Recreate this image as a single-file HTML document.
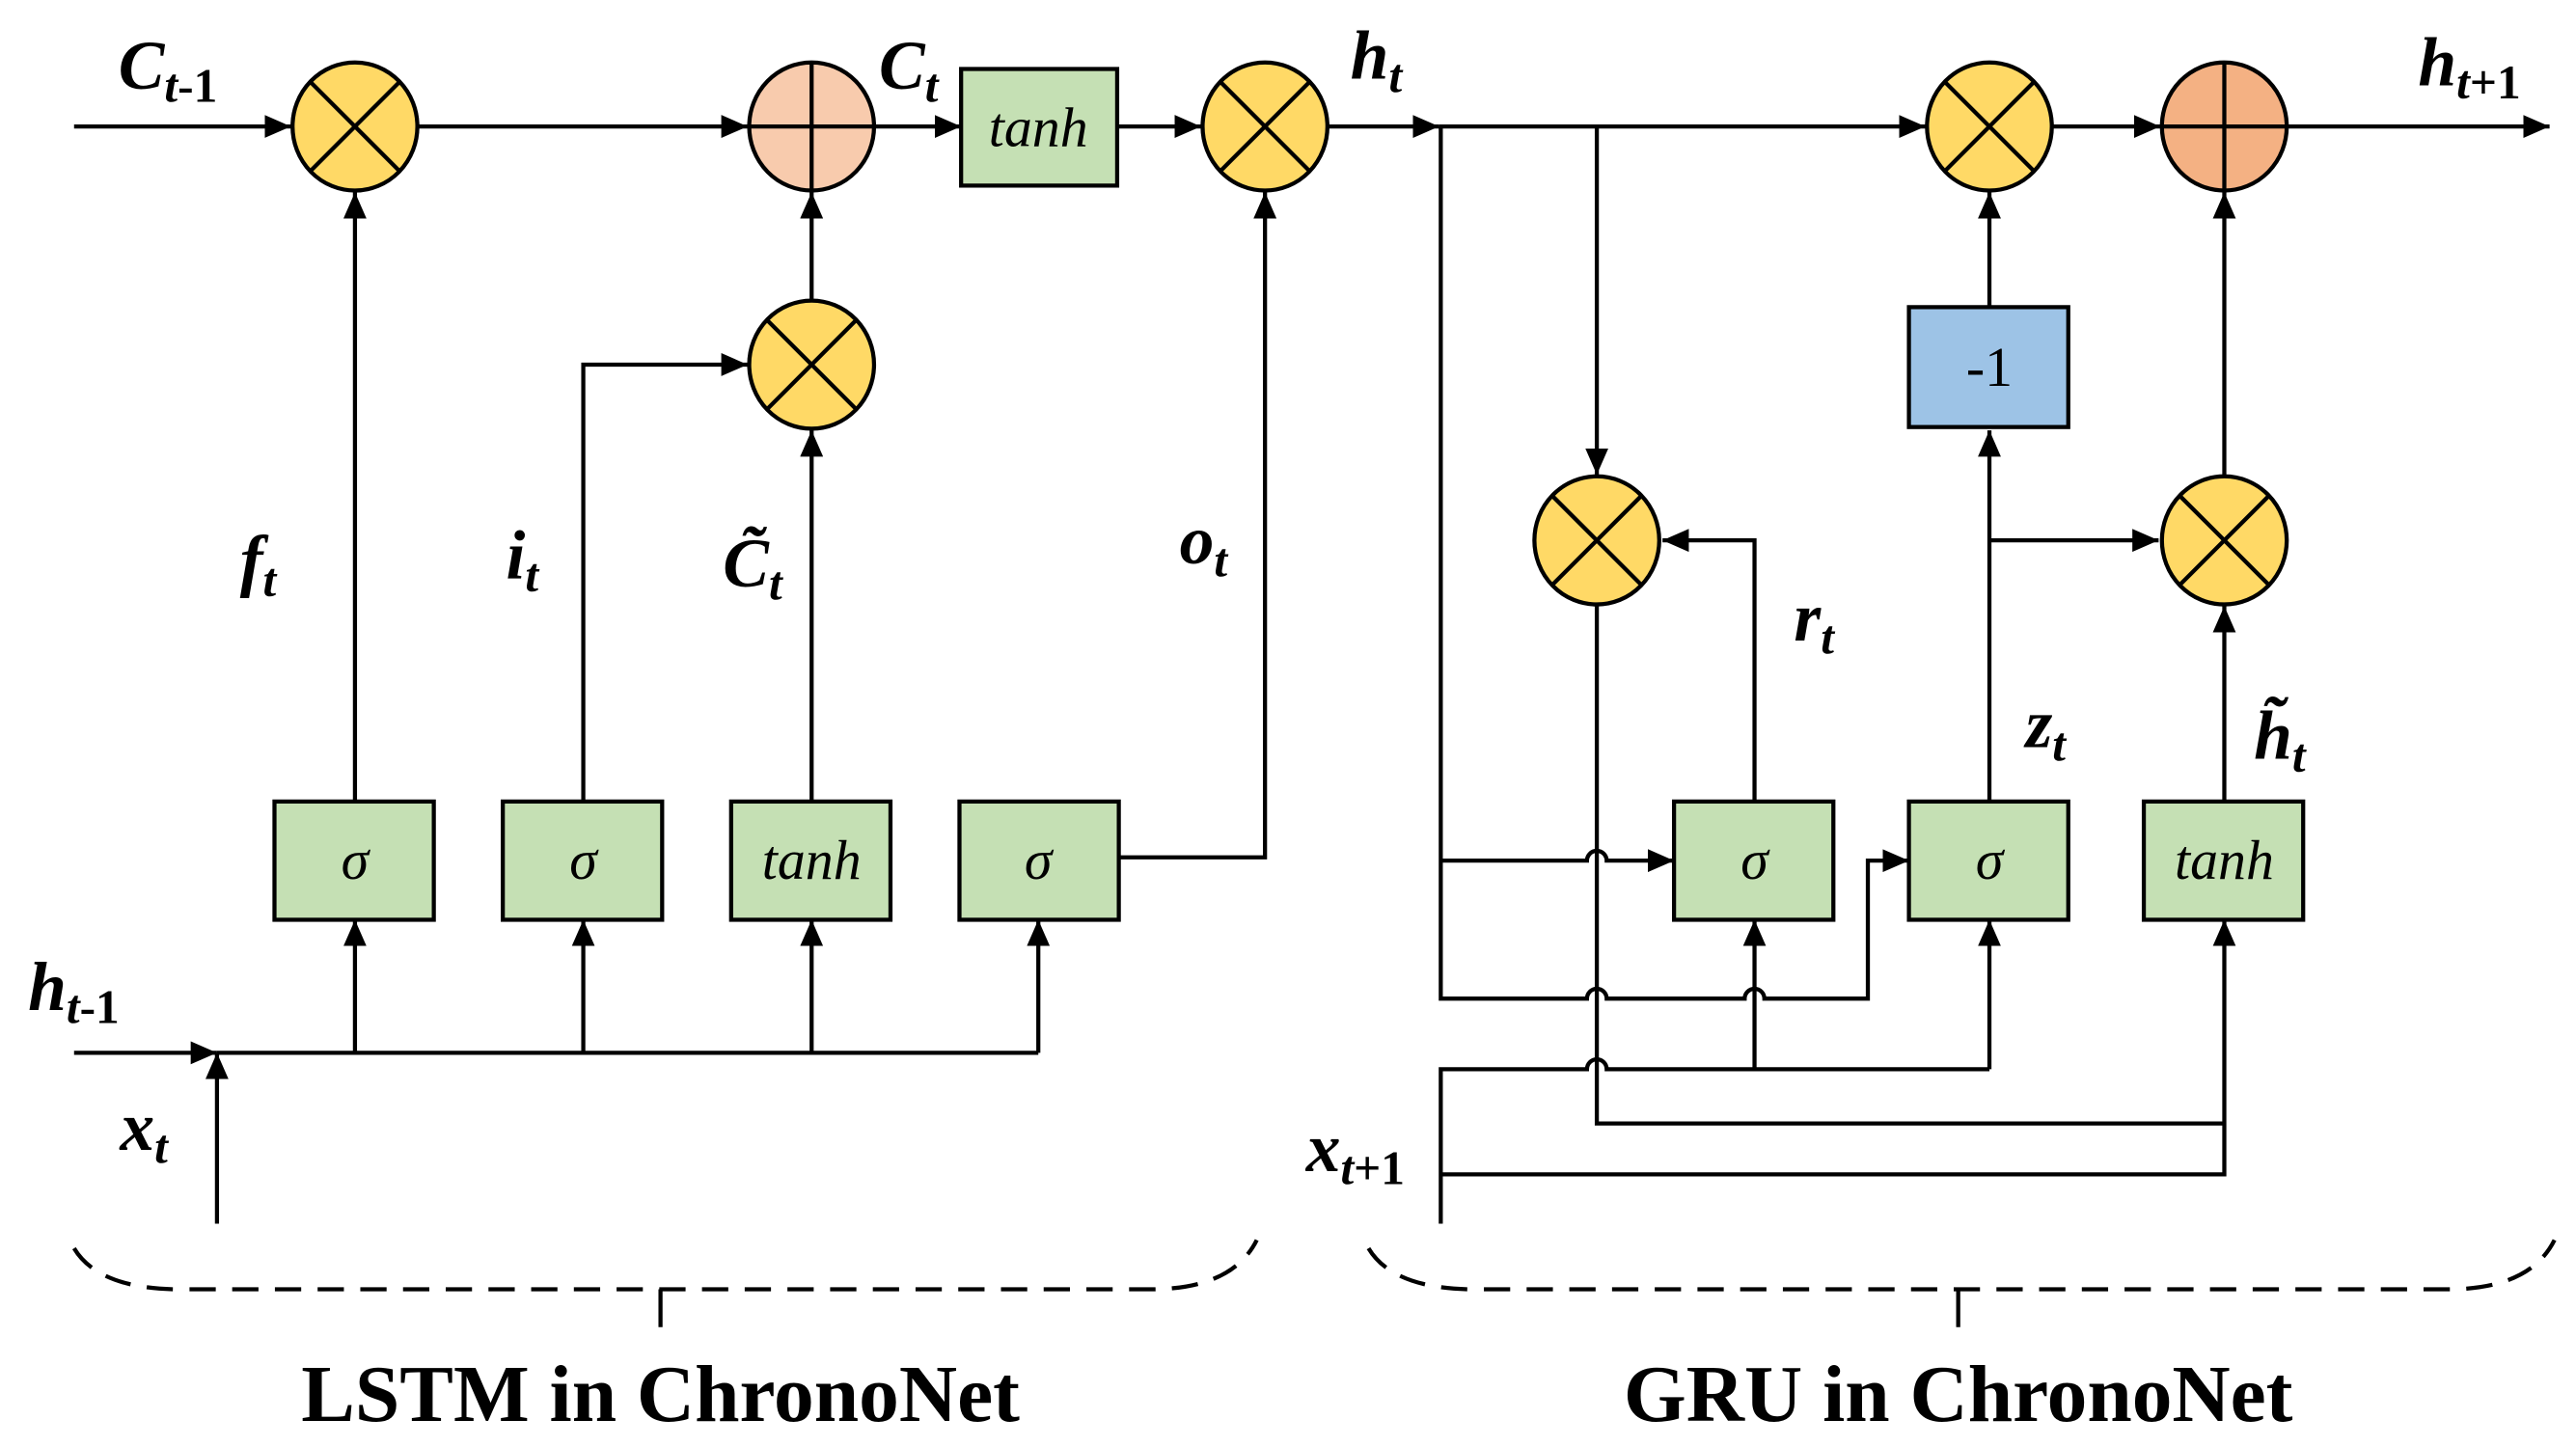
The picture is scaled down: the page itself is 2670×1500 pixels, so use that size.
<!DOCTYPE html>
<html><head><meta charset="utf-8"><style>
html,body{margin:0;padding:0;background:#fff;width:2670px;height:1500px;overflow:hidden}
svg{display:block}
.l{font-family:"Liberation Serif",serif;font-weight:bold;font-style:italic;font-size:42px;fill:#000}
.s{font-size:29px}
.b{font-family:"Liberation Serif",serif;font-style:italic;font-size:34px;fill:#000}
.t{font-family:"Liberation Serif",serif;font-weight:bold;font-size:49px;fill:#000}
</style></head><body>
<svg width="2670" height="1500" viewBox="0 0 1568 881" xmlns="http://www.w3.org/2000/svg">
<defs>
<marker id="A" markerWidth="16" markerHeight="14" refX="16" refY="7" orient="auto" markerUnits="userSpaceOnUse" viewBox="0 0 16 14">
<path d="M0,0 L16,7 L0,14 z" fill="#000"/></marker>
</defs>
<g fill="none" stroke="#000" stroke-width="2.5">
<path d="M45,77 H177" marker-end="url(#A)"/>
<path d="M255,77 H455" marker-end="url(#A)"/>
<path d="M533,77 H585" marker-end="url(#A)"/>
<path d="M680,77 H731" marker-end="url(#A)"/>
<path d="M809,77 H876" marker-end="url(#A)"/>
<path d="M876,77 H1172" marker-end="url(#A)"/>
<path d="M1250,77 H1315" marker-end="url(#A)"/>
<path d="M1393,77 H1552" marker-end="url(#A)"/>
<path d="M216,488 V117" marker-end="url(#A)"/>
<path d="M355,488 V222 H455" marker-end="url(#A)"/>
<path d="M494,488 V262" marker-end="url(#A)"/>
<path d="M494,182 V117" marker-end="url(#A)"/>
<path d="M681,522 H770 V117" marker-end="url(#A)"/>
<path d="M45,641 H132" marker-end="url(#A)"/>
<path d="M132,745 V641" marker-end="url(#A)"/>
<path d="M132,641 H632"/>
<path d="M216,641 V560" marker-end="url(#A)"/>
<path d="M355,641 V560" marker-end="url(#A)"/>
<path d="M494,641 V560" marker-end="url(#A)"/>
<path d="M632,641 V560" marker-end="url(#A)"/>
<path d="M877,77 V608 H966 a6,6 0 0 1 12,0 H1062 a6,6 0 0 1 12,0 H1137 V524 H1162" marker-end="url(#A)"/>
<path d="M877,524 H966 a6,6 0 0 1 12,0 H1019" marker-end="url(#A)"/>
<path d="M972,77 V289" marker-end="url(#A)"/>
<path d="M972,369 V684 H1354"/>
<path d="M1068,488 V329 H1012" marker-end="url(#A)"/>
<path d="M1211,488 V262" marker-end="url(#A)"/>
<path d="M1211,187 V117" marker-end="url(#A)"/>
<path d="M1211,329 H1314" marker-end="url(#A)"/>
<path d="M1354,488 V369" marker-end="url(#A)"/>
<path d="M1354,289 V117" marker-end="url(#A)"/>
<path d="M877,745 V651 H966 a6,6 0 0 1 12,0 H1211"/>
<path d="M1068,651 V560" marker-end="url(#A)"/>
<path d="M1211,651 V560" marker-end="url(#A)"/>
<path d="M877,715 H1354 V560" marker-end="url(#A)"/>
</g>
<g stroke="#000" stroke-width="2.5">
<ellipse cx="216" cy="77" rx="38" ry="39" fill="#ffd966"/>
<path d="M189,50 L243,104 M243,50 L189,104"/>
<ellipse cx="494" cy="77" rx="38" ry="39" fill="#f8cbad"/>
<path d="M456,77 H532 M494,38 V116"/>
<ellipse cx="494" cy="222" rx="38" ry="39" fill="#ffd966"/>
<path d="M467,195 L521,249 M521,195 L467,249"/>
<ellipse cx="770" cy="77" rx="38" ry="39" fill="#ffd966"/>
<path d="M743,50 L797,104 M797,50 L743,104"/>
<ellipse cx="1211" cy="77" rx="38" ry="39" fill="#ffd966"/>
<path d="M1184,50 L1238,104 M1238,50 L1184,104"/>
<ellipse cx="1354" cy="77" rx="38" ry="39" fill="#f4b183"/>
<path d="M1316,77 H1392 M1354,38 V116"/>
<ellipse cx="972" cy="329" rx="38" ry="39" fill="#ffd966"/>
<path d="M945,302 L999,356 M999,302 L945,356"/>
<ellipse cx="1354" cy="329" rx="38" ry="39" fill="#ffd966"/>
<path d="M1327,302 L1381,356 M1381,302 L1327,356"/>
<g fill="#c5e0b4">
<rect x="585" y="42" width="95" height="71"/>
<rect x="167" y="488" width="97" height="72"/>
<rect x="306" y="488" width="97" height="72"/>
<rect x="445" y="488" width="97" height="72"/>
<rect x="584" y="488" width="97" height="72"/>
<rect x="1019" y="488" width="97" height="72"/>
<rect x="1162" y="488" width="97" height="72"/>
<rect x="1305" y="488" width="97" height="72"/>
</g>
<rect x="1162" y="187" width="97" height="73" fill="#9dc3e6"/>
</g>
<text class="b" text-anchor="middle" x="632" y="89" style="font-family:'Liberation Serif',serif">tanh</text>
<text class="b" text-anchor="middle" x="216" y="535" style="font-family:'Liberation Serif',serif">σ</text>
<text class="b" text-anchor="middle" x="355" y="535" style="font-family:'Liberation Serif',serif">σ</text>
<text class="b" text-anchor="middle" x="494" y="535" style="font-family:'Liberation Serif',serif">tanh</text>
<text class="b" text-anchor="middle" x="632" y="535" style="font-family:'Liberation Serif',serif">σ</text>
<text class="b" text-anchor="middle" x="1068" y="535" style="font-family:'Liberation Serif',serif">σ</text>
<text class="b" text-anchor="middle" x="1211" y="535" style="font-family:'Liberation Serif',serif">σ</text>
<text class="b" text-anchor="middle" x="1354" y="535" style="font-family:'Liberation Serif',serif">tanh</text>
<text class="b" text-anchor="middle" x="1211" y="235" style="font-family:'Liberation Serif',serif;font-style:normal">-1</text>
<text class="l" x="72" y="54">C<tspan class="s" dy="8">t</tspan><tspan class="s" style="font-style:normal">-1</tspan></text>
<text class="l" x="535" y="54">C<tspan class="s" dy="8">t</tspan></text>
<text class="l" x="822" y="48">h<tspan class="s" dy="8">t</tspan></text>
<text class="l" x="1472" y="52">h<tspan class="s" dy="8">t</tspan><tspan class="s" style="font-style:normal">+1</tspan></text>
<text class="l" x="146" y="355">f<tspan class="s" dy="8">t</tspan></text>
<text class="l" x="308" y="352">i<tspan class="s" dy="8">t</tspan></text>
<text class="l" x="440" y="357">C̃<tspan class="s" dy="8">t</tspan></text>
<text class="l" x="718" y="343">o<tspan class="s" dy="8">t</tspan></text>
<text class="l" x="1092" y="390">r<tspan class="s" dy="8">t</tspan></text>
<text class="l" x="1233" y="455">z<tspan class="s" dy="8">t</tspan></text>
<text class="l" x="1372" y="462">h̃<tspan class="s" dy="8">t</tspan></text>
<text class="l" x="17" y="615">h<tspan class="s" dy="8">t</tspan><tspan class="s" style="font-style:normal">-1</tspan></text>
<text class="l" x="73" y="700">x<tspan class="s" dy="8">t</tspan></text>
<text class="l" x="795" y="713">x<tspan class="s" dy="8">t</tspan><tspan class="s" style="font-style:normal">+1</tspan></text>
<g fill="none" stroke="#000" stroke-width="2.5" stroke-dasharray="16,10">
<path d="M45,760 Q60,785 110,785 H700 Q750,785 765,755"/>
<path d="M833,760 Q848,785 898,785 H1490 Q1540,785 1555,755"/>
</g>
<g stroke="#000" stroke-width="2.5"><path d="M402,785 V808 M1192,785 V808"/></g>
<text class="t" x="402" y="865" text-anchor="middle">LSTM in ChronoNet</text>
<text class="t" x="1192" y="865" text-anchor="middle">GRU in ChronoNet</text>
</svg>
</body></html>
